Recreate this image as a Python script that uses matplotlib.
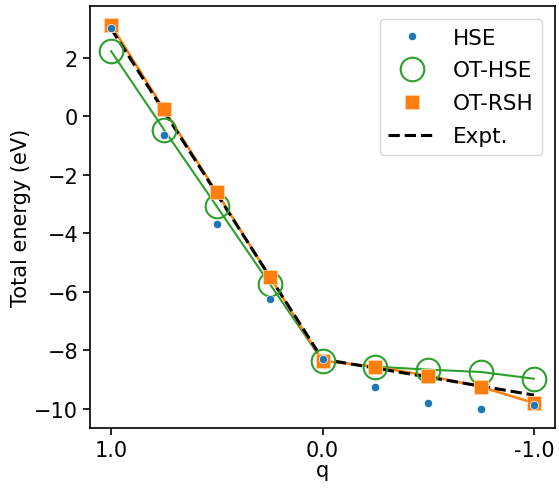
import matplotlib
matplotlib.use("Agg")
import matplotlib.pyplot as plt

q = [1.0, 0.75, 0.5, 0.25, 0.0, -0.25, -0.5, -0.75, -1.0]
hse = [3.02, -0.62, -3.68, -6.25, -8.30, -9.25, -9.80, -10.00, -9.88]
ot_hse = [2.23, -0.45, -3.08, -5.72, -8.36, -8.56, -8.66, -8.74, -8.97]
ot_rsh = [3.12, 0.24, -2.60, -5.48, -8.36, -8.56, -8.87, -9.25, -9.80]
q_expt = [1.0, 0.0, -1.0]
expt = [3.00, -8.30, -9.53]
xtick_vals = [1.0, 0.0, -1.0]
xtick_labels = ["1.0", "0.0", "-1.0"]

fs = 15
fig = plt.figure(figsize=(5.59, 4.89), dpi=100)
ax = fig.add_axes([90/559, 1-429/489, (555-90)/559, (429-7)/489])

ax.plot(q, ot_hse, '-', color='C2', lw=1.5, zorder=2)
ax.plot(q, ot_rsh, '-', color='C1', lw=1.8, zorder=2)
ax.plot(q, hse, 'o', color='C0', ms=6, mec='white', mew=0.5, label='HSE', zorder=5)
ax.plot(q, ot_hse, 'o', color='C2', mfc='none', ms=17, mew=1.5, ls='none', label='OT-HSE', zorder=3)
ax.plot(q, ot_rsh, 's', color='C1', ms=10, mec='#ffd8b0', mew=0.5, ls='none', label='OT-RSH', zorder=4)
ax.plot(q_expt, expt, '--', color='black', lw=2.2, label='Expt.', zorder=2.5)

ax.invert_xaxis()
ax.set_xticks(xtick_vals)
ax.set_xticklabels(xtick_labels)
ax.set_xlabel('q', fontsize=fs, labelpad=0)
ax.set_ylabel('Total energy (eV)', fontsize=fs, labelpad=2)
ax.tick_params(labelsize=fs, width=1.2, length=5)
for s in ax.spines.values():
    s.set_linewidth(1.2)

ax.legend(loc='upper right', fontsize=15.5, handlelength=2.2, labelspacing=0.6,
          borderaxespad=0.6)
fig.savefig('out.png', dpi=100)
